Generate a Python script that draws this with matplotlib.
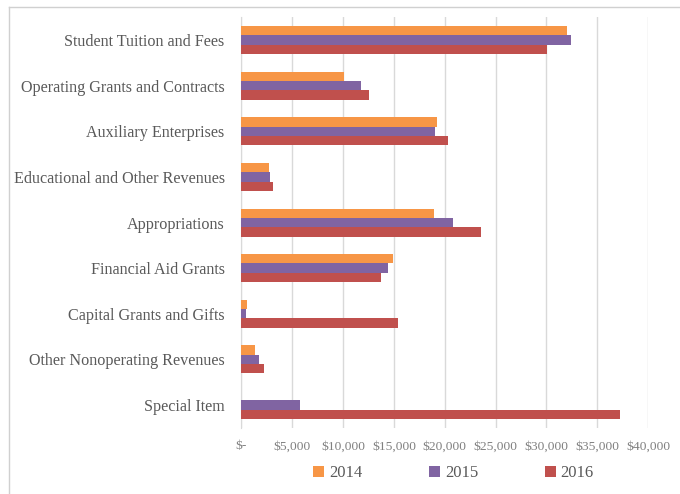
import matplotlib.pyplot as plt
import numpy as np
from matplotlib.lines import Line2D

categories = ['Student Tuition and Fees', 'Operating Grants and Contracts',
              'Auxiliary Enterprises', 'Educational and Other Revenues',
              'Appropriations', 'Financial Aid Grants', 'Capital Grants and Gifts',
              'Other Nonoperating Revenues', 'Special Item']
years = ['2014', '2015', '2016']
v2014 = [32060, 10090, 19240, 2670, 18910, 14880, 570, 1360, 0]
v2015 = [32450, 11760, 19070, 2800, 20780, 14390, 440, 1690, 5790]
v2016 = [30060, 12520, 20350, 3130, 23570, 13760, 15370, 2180, 37280]
colors = ['#F79646', '#8064A2', '#C0504D']
xticks = [0, 5000, 10000, 15000, 20000, 25000, 30000, 35000, 40000]
xtick_labels = ['$-', '$5,000', '$10,000', '$15,000', '$20,000', '$25,000',
                '$30,000', '$35,000', '$40,000']

plt.rcParams['font.family'] = ['Liberation Serif', 'DejaVu Serif']

fig = plt.figure(figsize=(6.8, 4.94), dpi=100)
ax = fig.add_axes([0.355, 0.134, 0.598, 0.831])

y = np.arange(len(categories))
h = 0.205
for i, (vals, c) in enumerate(zip([v2014, v2015, v2016], colors)):
    ax.barh(y + (i - 1) * h, vals, height=h, color=c, label=years[i], zorder=3)

ax.set_ylim(len(categories) - 0.5, -0.5)
ax.set_xlim(0, 40000)
ax.set_yticks(y)
ax.set_yticklabels(categories, fontsize=11.6, color='#595959')
ax.set_xticks(xticks)
ax.set_xticklabels(xtick_labels, fontsize=9.7, color='#808080')
ax.tick_params(axis='y', length=0, pad=12)
ax.tick_params(axis='x', length=0, pad=9)
ax.grid(axis='x', color='#D9D9D9', linewidth=1, zorder=0)
for s in ['top', 'right', 'bottom']:
    ax.spines[s].set_visible(False)
ax.spines['left'].set_color('#D9D9D9')

fig.legend(loc='center', bbox_to_anchor=(0.667, 0.0425), ncol=3, frameon=False,
           fontsize=12, labelcolor='#595959', handlelength=0.65, handleheight=0.65,
           handletextpad=0.3, columnspacing=4.0)

# outer frame (partially cropped in the reference)
fig.add_artist(Line2D([9 / 680, 9 / 680], [0, 1 - 7 / 494], color='#D0D0D0', lw=1))
fig.add_artist(Line2D([9 / 680, 1], [1 - 7 / 494, 1 - 7 / 494], color='#D0D0D0', lw=1))

fig.savefig('out.png', dpi=100)
